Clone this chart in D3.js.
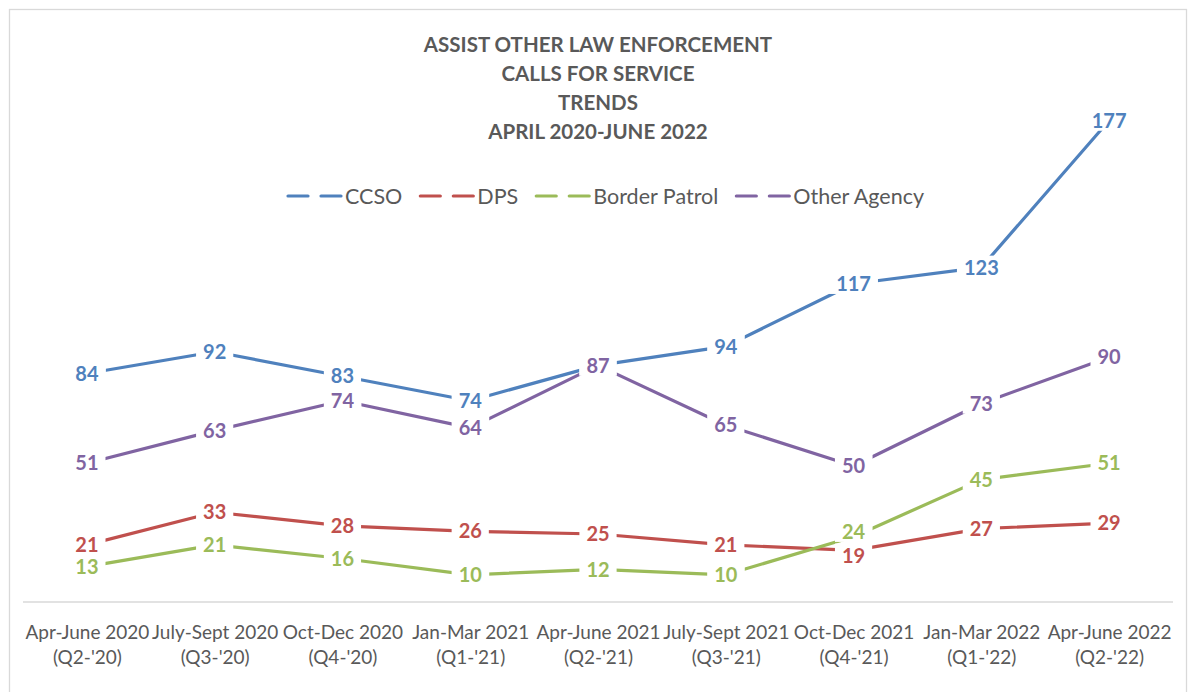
<!DOCTYPE html>
<html>
<head>
<meta charset="utf-8">
<script src="https://cdn.jsdelivr.net/npm/d3@7"></script>
<style>
  html, body { margin: 0; padding: 0; background: #fff; }
  svg { display: block; font-family: Lato, "Open Sans", sans-serif; }
</style>
</head>
<body>
<svg id="chart" width="1191" height="692"></svg>
<script>
// quarters along the x axis (two lines each)
const quarters = [
    ['Apr-June 2020', "(Q2-'20)"],
    ['July-Sept 2020', "(Q3-'20)"],
    ['Oct-Dec 2020', "(Q4-'20)"],
    ['Jan-Mar 2021', "(Q1-'21)"],
    ['Apr-June 2021', "(Q2-'21)"],
    ['July-Sept 2021', "(Q3-'21)"],
    ['Oct-Dec 2021', "(Q4-'21)"],
    ['Jan-Mar 2022', "(Q1-'22)"],
    ['Apr-June 2022', "(Q2-'22)"]
];

const ccso = [84, 92, 83, 74, 87, 94, 117, 123, 177];
const dps = [21, 33, 28, 26, 25, 21, 19, 27, 29];
const borderPatrol = [13, 21, 16, 10, 12, 10, 24, 45, 51];
const otherAgency = [51, 63, 74, 64, 87, 65, 50, 73, 90];

const seriesNames = ['CCSO', 'DPS', 'Border Patrol', 'Other Agency'];
const seriesColors = ['#4f81bd', '#c0504d', '#9bbb59', '#8064a2'];

const titleLines = ['ASSIST OTHER LAW ENFORCEMENT', 'CALLS FOR SERVICE', 'TRENDS', 'APRIL 2020-JUNE 2022'];

function drawChart () {
    const svg = d3.select('#chart');

    // outer chart border
    svg.append('rect')
        .attr('x', 9.5).attr('y', 9.5)
        .attr('width', 1177).attr('height', 700)
        .attr('fill', 'none')
        .attr('stroke', '#d9d9d9')
        .attr('stroke-width', 1.3);

    const x = d3.scalePoint()
        .domain(d3.range(quarters.length))
        .range([23, 1173])
        .padding(0.5);

    const y = d3.scaleLinear()
        .domain([0, 200])
        .range([602, 58]);

    // title
    svg.append('g')
        .selectAll('text')
        .data(titleLines)
        .enter()
        .append('text')
        .attr('x', 598)
        .attr('y', function (d, i) { return 52 + i * 29; })
        .attr('text-anchor', 'middle')
        .style('font-size', '20.5px')
        .style('font-weight', 'bold')
        .style('fill', '#595959')
        .text(function (d) { return d; });

    // category axis
    const axis = svg.append('g')
        .attr('transform', 'translate(0,' + y(0) + ')')
        .call(d3.axisBottom(x).tickSize(0).tickFormat(''));
    axis.select('.domain')
        .attr('d', 'M23,0H1173')
        .attr('stroke', '#d9d9d9')
        .attr('stroke-width', 1.5);

    const tickText = axis.selectAll('.tick text')
        .attr('y', 0)
        .attr('dy', 0)
        .style('font-family', 'Lato, sans-serif')
        .style('font-size', '19px')
        .style('fill', '#595959');
    tickText.each(function (d) {
        const t = d3.select(this);
        quarters[d].forEach(function (line, k) {
            t.append('tspan')
                .attr('x', 0)
                .attr('y', 37 + k * 25)
                .text(line);
        });
    });

    const allSeries = [ccso, dps, borderPatrol, otherAgency];

    const line = d3.line()
        .x(function (d, i) { return x(i); })
        .y(function (d) { return y(d); });

    // lines first
    svg.append('g')
        .selectAll('path')
        .data(allSeries)
        .enter()
        .append('path')
        .attr('d', line)
        .attr('fill', 'none')
        .attr('stroke', function (d, i) { return seriesColors[i]; })
        .attr('stroke-width', 3.2)
        .attr('stroke-linejoin', 'round');

    // the two labels at Oct-Dec 2021 sit nearly on top of each other, nudge them apart
    function nudge (s, i) {
        if (i !== 6) return 0;
        if (s === 2) return -5;
        if (s === 1) return 5;
        return 0;
    }

    // data labels with white background on top
    allSeries.forEach(function (values, s) {
        const g = svg.append('g');
        values.forEach(function (v, i) {
            const lg = g.append('g')
                .attr('transform', 'translate(' + x(i) + ',' + (y(v) + nudge(s, i)) + ')');
            const t = lg.append('text')
                .attr('text-anchor', 'middle')
                .attr('dy', '0.36em')
                .style('font-size', '20px')
                .style('font-weight', 'bold')
                .style('fill', seriesColors[s])
                .text(v);
            const bb = t.node().getBBox();
            lg.insert('rect', 'text')
                .attr('x', bb.x - 7)
                .attr('y', bb.y + 1)
                .attr('width', bb.width + 14)
                .attr('height', bb.height - 2)
                .attr('fill', '#fff');
        });
    });

    // legend
    const legend = svg.append('g');
    const items = legend.selectAll('g')
        .data(seriesNames)
        .enter()
        .append('g');
    items.append('line')
        .attr('x1', 0).attr('x2', 20)
        .attr('stroke', function (d, i) { return seriesColors[i]; })
        .attr('stroke-width', 3.2)
        .attr('stroke-linecap', 'round');
    items.append('line')
        .attr('x1', 33).attr('x2', 53)
        .attr('stroke', function (d, i) { return seriesColors[i]; })
        .attr('stroke-width', 3.2)
        .attr('stroke-linecap', 'round');
    items.append('text')
        .attr('x', 57)
        .attr('dy', '0.35em')
        .style('font-size', '21.5px')
        .style('fill', '#595959')
        .text(function (d) { return d; });

    let offset = 0;
    const widths = [];
    items.each(function () {
        widths.push(this.getBBox().width);
    });
    const total = d3.sum(widths) + 18 * (widths.length - 1);
    offset = 606 - total / 2;
    items.attr('transform', function (d, i) {
        const tx = offset;
        offset += widths[i] + 18;
        return 'translate(' + tx + ',196)';
    });
}

drawChart();
</script>
</body>
</html>
